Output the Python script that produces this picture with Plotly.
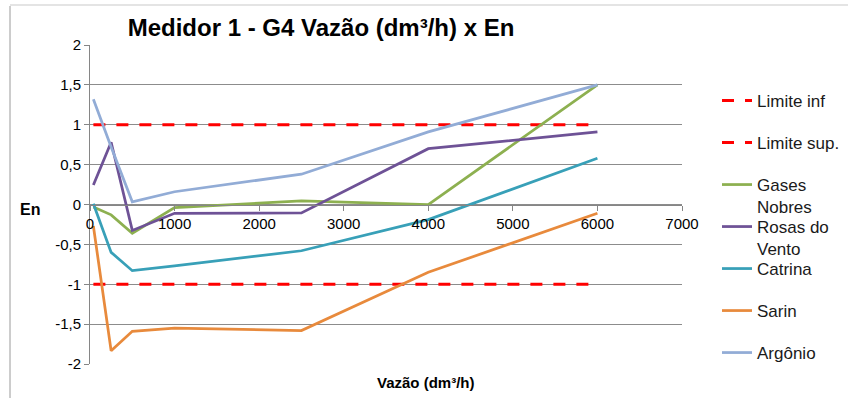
import plotly.graph_objects as go

# ---- data ----
vazao = [40, 250, 500, 1000, 2500, 4000, 6000]
limite_inf = [1, 1, 1, 1, 1, 1, 1]
limite_sup = [-1, -1, -1, -1, -1, -1, -1]
gases_nobres = [-0.03, -0.13, -0.36, -0.04, 0.045, 0.0, 1.5]
rosas_do_vento = [0.245, 0.78, -0.325, -0.11, -0.105, 0.70, 0.91]
catrina = [0.01, -0.6, -0.83, -0.77, -0.58, -0.19, 0.58]
sarin = [-0.27, -1.835, -1.59, -1.55, -1.58, -0.85, -0.11]
argonio = [1.32, 0.72, 0.034, 0.16, 0.38, 0.91, 1.5]

series_names = ["Limite inf", "Limite sup.", "Gases<br>Nobres", "Rosas do<br>Vento",
                "Catrina", "Sarin", "Argônio"]
series_values = [limite_inf, limite_sup, gases_nobres, rosas_do_vento, catrina, sarin, argonio]
series_colors = ["#FF0000", "#FF0000", "#8DB050", "#6E5296", "#38A0B8", "#E88A3C", "#92ACD6"]
series_dash = ["12px,11px", "12px,11px", "solid", "solid", "solid", "solid", "solid"]

x_tick_vals = [0, 1000, 2000, 3000, 4000, 5000, 6000, 7000]
x_tick_text = ["0", "1000", "2000", "3000", "4000", "5000", "6000", "7000"]
y_tick_vals = [-2, -1.5, -1, -0.5, 0, 0.5, 1, 1.5, 2]
y_tick_text = ["-2", "-1,5", "-1", "-0,5", "0", "0,5", "1", "1,5", "2"]

title_text = "Medidor 1 - G4 Vazão (dm³/h) x En"
x_title = "Vazão (dm³/h)"
y_title = "En"

# ---- layout geometry (pixels) ----
W, H = 848, 398
L, R, T, B = 90, 682, 45, 364
pw, ph = R - L, B - T


def px_x(p):
    return (p - L) / pw


def px_y(p):
    return (B - p) / ph


FONT = "Liberation Sans, Arial, sans-serif"
legend_tops = [83, 125, 167, 209, 251, 293, 335]

fig = go.Figure()
layout_legends = {}
for i, (name, vals, col, dash) in enumerate(zip(series_names, series_values, series_colors, series_dash)):
    key = "legend" if i == 0 else f"legend{i + 1}"
    fig.add_trace(go.Scatter(
        x=vazao, y=vals, mode="lines", name=name,
        line=dict(color=col, width=3 if dash != "solid" else 2.75, dash=dash),
        legend=key, showlegend=True,
    ))
    layout_legends[key] = dict(
        x=px_x(717), y=px_y(legend_tops[i]), xanchor="left", yanchor="top",
        xref="paper", yref="paper",
        bgcolor="rgba(0,0,0,0)", borderwidth=0,
        font=dict(family=FONT, size=17, color="#1a1a1a"),
        valign="top", itemwidth=30,
    )

fig.update_layout(
    width=W, height=H,
    margin=dict(l=L, r=W - R, t=T, b=H - B, pad=0, autoexpand=False),
    paper_bgcolor="white", plot_bgcolor="white",
    font=dict(family=FONT, size=15, color="#000"),
    title=dict(text=f"<b>{title_text}</b>", x=321 / W, y=1 - 28 / H,
               xref="container", yref="container", xanchor="center", yanchor="middle",
               font=dict(family=FONT, size=24, color="#000")),
    xaxis=dict(range=[0, 7000], tickvals=x_tick_vals, ticktext=x_tick_text,
               showgrid=False, zeroline=False, showline=True, linecolor="#868686", linewidth=1,
               ticks="outside", ticklen=5, tickcolor="#868686",
               anchor="free", position=0.5, automargin=False,
               tickfont=dict(family=FONT, size=15, color="#000")),
    yaxis=dict(range=[-2, 2], tickvals=y_tick_vals, ticktext=y_tick_text,
               showgrid=True, gridcolor="#8c8c8c", gridwidth=1, zeroline=False,
               showline=True, linecolor="#868686", linewidth=1,
               ticks="outside", ticklen=5, tickcolor="#868686", automargin=False,
               tickfont=dict(family=FONT, size=15, color="#000")),
    showlegend=True,
    **layout_legends,
)

fig.add_annotation(text=f"<b>{x_title}</b>", x=px_x(426), y=px_y(382), xref="paper", yref="paper",
                   showarrow=False, xanchor="center", yanchor="middle",
                   font=dict(family=FONT, size=15, color="#000"))
fig.add_annotation(text=f"<b>{y_title}</b>", x=px_x(30), y=px_y(210), xref="paper", yref="paper",
                   showarrow=False, xanchor="center", yanchor="middle",
                   font=dict(family=FONT, size=16, color="#000"))

# outer frame fragments
fig.add_shape(type="line", xref="paper", yref="paper", x0=px_x(10), x1=px_x(10), y0=px_y(6), y1=px_y(398),
              line=dict(color="#9a9a9a", width=1))
fig.add_shape(type="line", xref="paper", yref="paper", x0=px_x(10), x1=px_x(848), y0=px_y(5), y1=px_y(5),
              line=dict(color="#e4e4e4", width=2))

fig.write_html("out.html",
               config={"displayModeBar": False},
               post_script="document.body.style.margin='0';document.body.style.overflow='hidden';")
